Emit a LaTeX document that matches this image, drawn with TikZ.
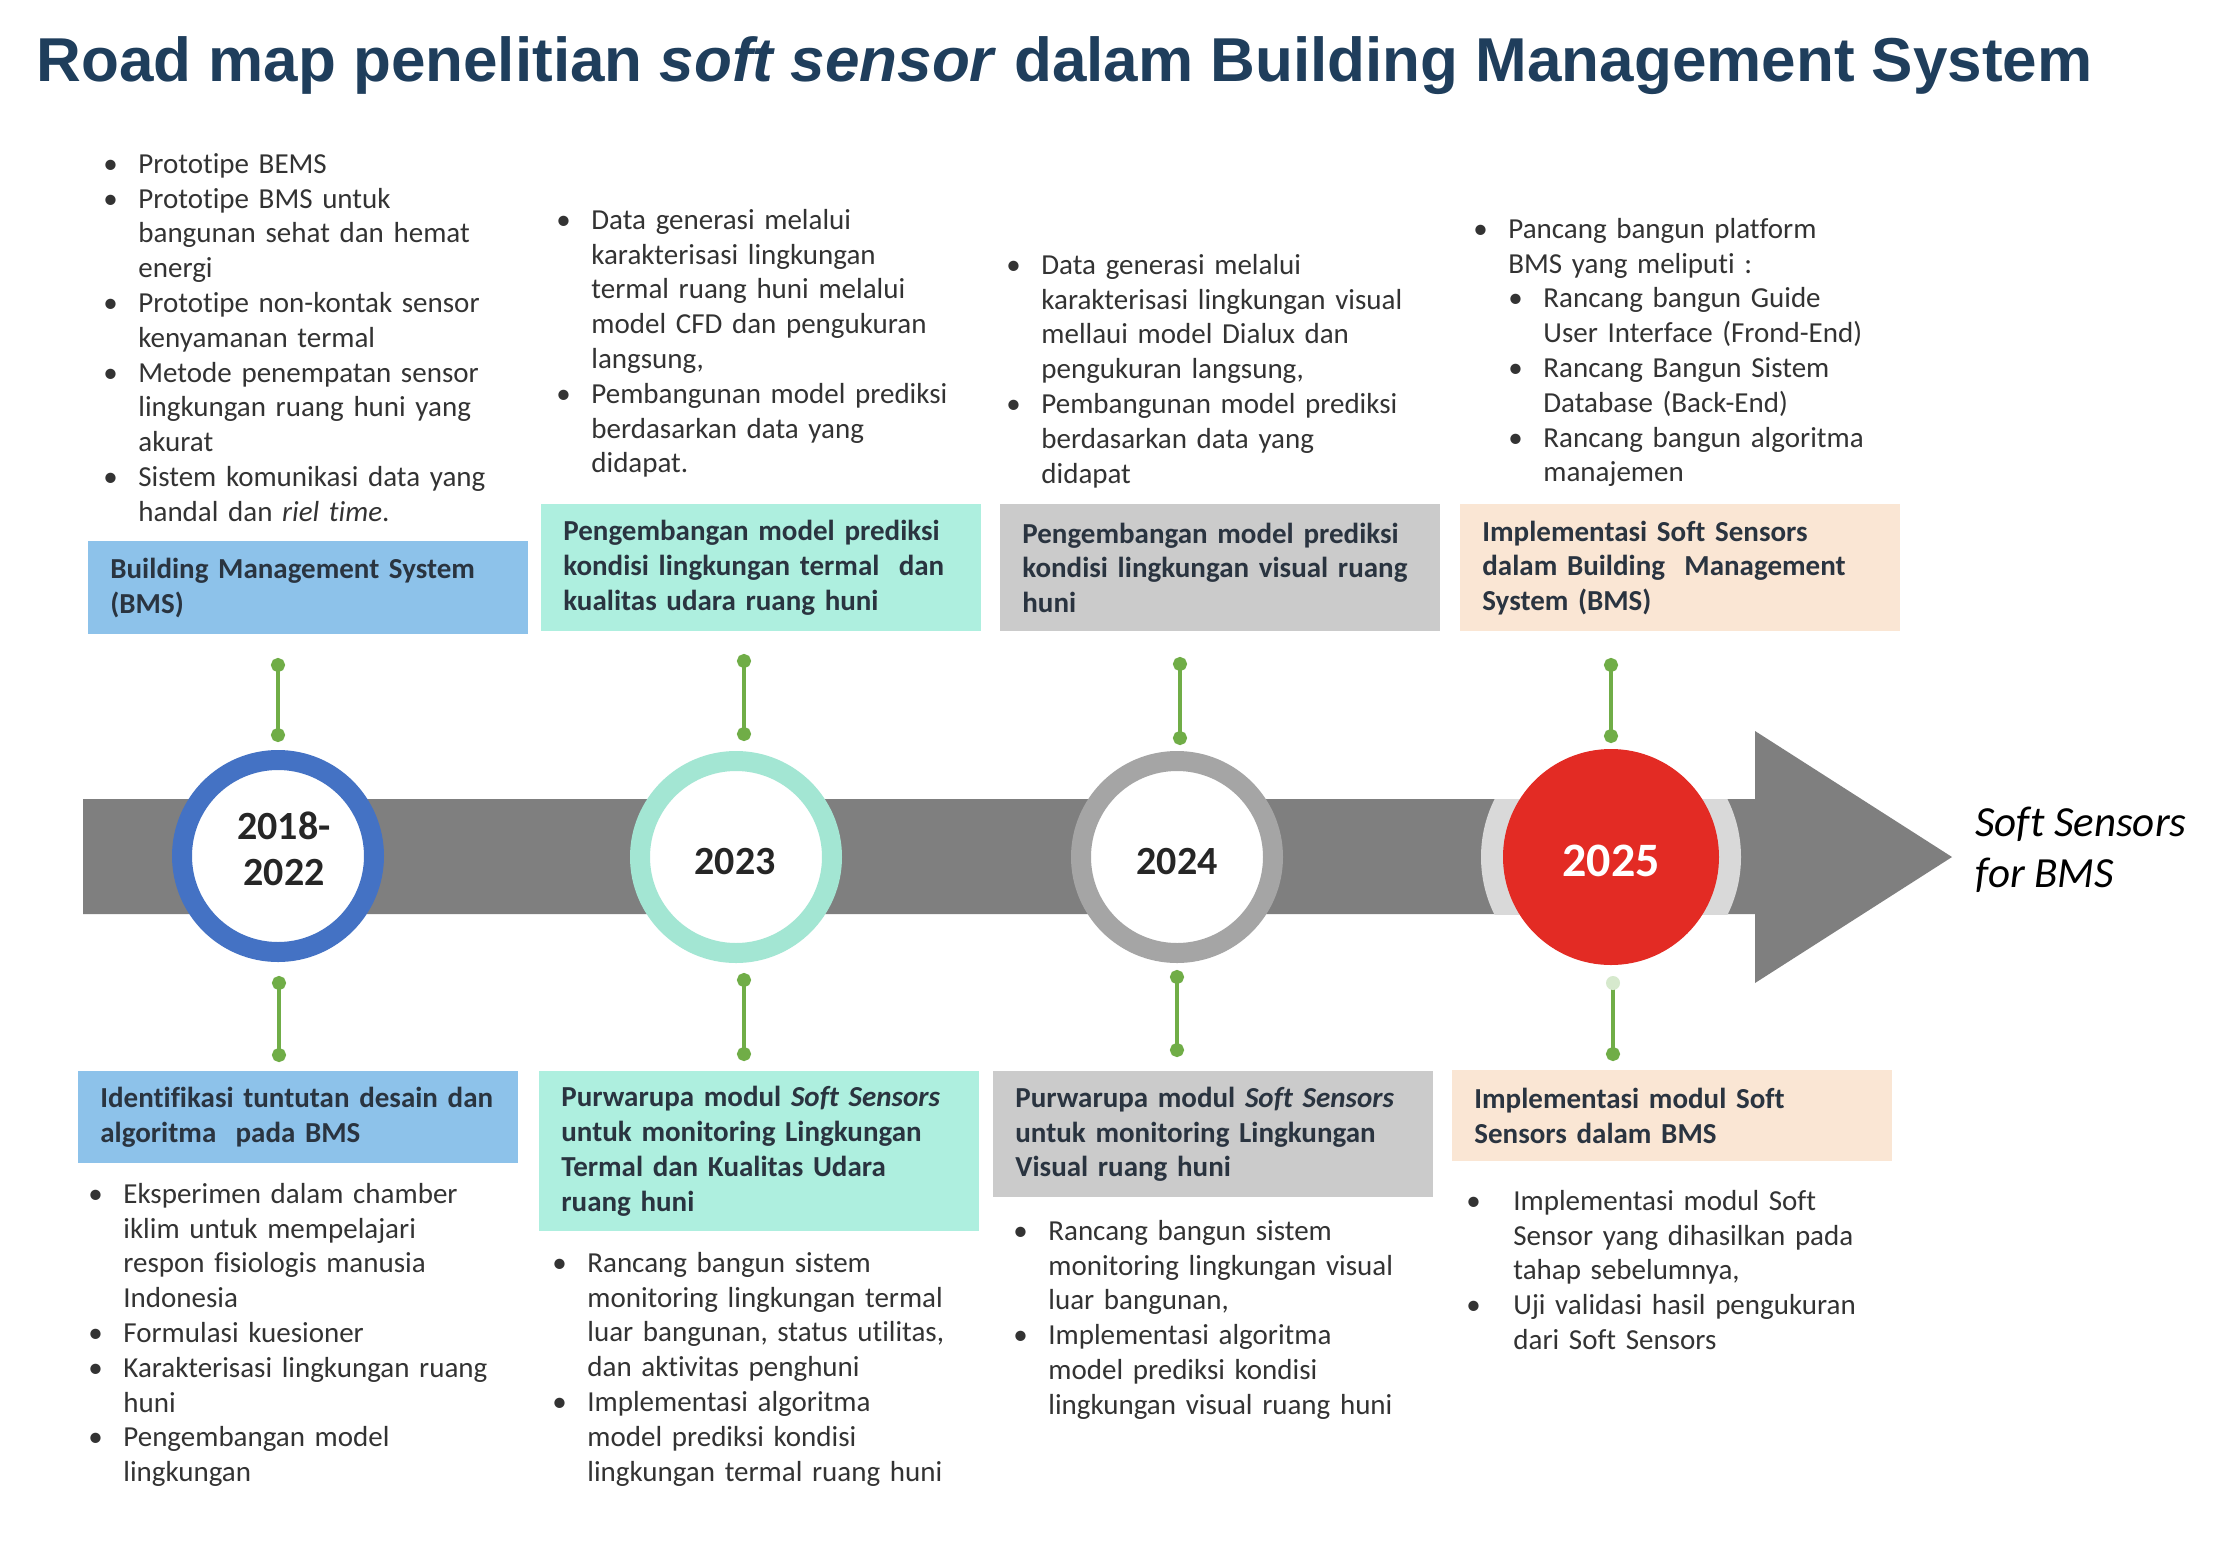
\documentclass[tikz,border=0pt]{standalone}
\usepackage{fontspec}
\setmainfont{Carlito}[Ligatures=NoCommon]
\newfontfamily\titlefont{Liberation Sans}
\usetikzlibrary{arrows.meta}
\definecolor{titlecol}{HTML}{1F3E5C}
\definecolor{bandgray}{HTML}{7F7F7F}
\definecolor{ringblue}{HTML}{4472C4}
\definecolor{ringmint}{HTML}{A3E6D3}
\definecolor{ringgray}{HTML}{A5A5A5}
\definecolor{redfill}{HTML}{E32B24}
\definecolor{lightring}{HTML}{D9D9D9}
\definecolor{conngreen}{HTML}{70AD47}
\definecolor{paledot}{HTML}{D6E9CD}
\definecolor{boxblue}{HTML}{8DC2EA}
\definecolor{boxmint}{HTML}{AEEFDF}
\definecolor{boxgray}{HTML}{CBCBCB}
\definecolor{boxpeach}{HTML}{FAE6D4}
\definecolor{headcol}{HTML}{2A3440}
\definecolor{bodycol}{HTML}{333333}
\definecolor{yearcol}{HTML}{262626}
\newcommand\bodyfs{\fontsize{14.5pt}{17.4pt}\selectfont}
\newlength\lind
\setlength\lind{17.5pt}
\newcommand\nl{\hfil\break}
\newcommand\litem[1]{\par\noindent\hangindent=\lind\hangafter=1\makebox[\lind][l]{\strut•}#1\par}
\newcommand\lsub[1]{\par\noindent\hangindent=2\lind\hangafter=1\hspace*{\lind}\makebox[\lind][l]{\strut•}#1\par}
\begin{document}
\begin{tikzpicture}[x=0.5pt,y=-0.5pt,
  lst/.style={anchor=north west, inner sep=0pt, text width=320pt, font=\bodyfs, text=bodycol},
  hbox/.style={anchor=north west, inner xsep=11pt, inner ysep=0pt, text width=198pt, align=left, font=\bodyfs\bfseries, text=headcol},
  ring/.style={circle, fill=white, line width=10pt, minimum size=96pt, inner sep=0pt},
  yearlbl/.style={inner sep=0pt, align=center, text=yearcol, font=\fontsize{20pt}{23pt}\selectfont\bfseries},
  conn/.style={conngreen, line width=2.3pt, {Circle[length=7pt]}-{Circle[length=7pt]}},
  connpale/.style={conngreen, line width=2.3pt, -{Circle[length=7pt]}}
]
\useasboundingbox (0,0) rectangle (2234,1554);
\fill[white] (0,0) rectangle (2234,1554);

% title
\node[anchor=base west, inner sep=0pt, text=titlecol, font=\titlefont\bfseries\fontsize{31pt}{36pt}\selectfont] (title) at (36,81) {Road map penelitian \textit{soft sensor} dalam Building Management System};

% timeline band and arrow
\fill[bandgray] (83,799) -- (1755,799) -- (1755,731) -- (1952,857) -- (1755,983) -- (1755,914) -- (83,914) -- cycle;
\begin{scope}
  \clip (83,799) rectangle (1755,914);
  \fill[lightring] (1611,857) circle (65pt);
\end{scope}

% year circles
\node[ring, draw=ringblue] (c1) at (278,856) {};
\node[ring, draw=ringmint] (c2) at (736,857) {};
\node[ring, draw=ringgray] (c3) at (1177,857) {};
\node[circle, fill=redfill, minimum size=108pt, inner sep=0pt] (c4) at (1611,857) {};
\node[yearlbl] (y1) at (284,849) {2018-\\2022};
\node[yearlbl] (y2) at (735,862) {2023};
\node[yearlbl] (y3) at (1177,862) {2024};
\node[yearlbl, text=white, font=\fontsize{24pt}{28pt}\selectfont\bfseries] (y4) at (1611,861) {2025};

% connectors
\coordinate (t1a) at (278,658); \coordinate (t1b) at (278,742);
\coordinate (t2a) at (744,654); \coordinate (t2b) at (744,741);
\coordinate (t3a) at (1180,657); \coordinate (t3b) at (1180,745);
\coordinate (t4a) at (1611,658); \coordinate (t4b) at (1611,743);
\coordinate (b1a) at (279,976); \coordinate (b1b) at (279,1062);
\coordinate (b2a) at (744,973); \coordinate (b2b) at (744,1061);
\coordinate (b3a) at (1177,970); \coordinate (b3b) at (1177,1057);
\coordinate (b4a) at (1613,983); \coordinate (b4b) at (1613,1061);
\draw[conn] (t1a) -- (t1b);
\draw[conn] (t2a) -- (t2b);
\draw[conn] (t3a) -- (t3b);
\draw[conn] (t4a) -- (t4b);
\draw[conn] (b1a) -- (b1b);
\draw[conn] (b2a) -- (b2b);
\draw[conn] (b3a) -- (b3b);
\draw[connpale] (b4a) -- (b4b);
\fill[paledot] (b4a) circle (3.5pt);

% top heading boxes
\node[hbox, fill=boxblue, minimum height=46.5pt] (h1) at (88,541) {Building Management System\\(BMS)};
\node[hbox, fill=boxmint, minimum height=63.5pt] (h2) at (541,504) {Pengembangan model prediksi\\kondisi lingkungan termal\ \ dan\\kualitas udara ruang huni};
\node[hbox, fill=boxgray, minimum height=63.5pt] (h3) at (1000,504) {Pengembangan model prediksi\\kondisi lingkungan visual ruang\\huni};
\node[hbox, fill=boxpeach, minimum height=63.5pt] (h4) at (1460,504) {Implementasi Soft Sensors\\dalam Building\ \ Management\\System (BMS)};

% bottom heading boxes
\node[hbox, fill=boxblue, minimum height=46pt] (g1) at (78,1071) {Identifikasi tuntutan desain dan\\algoritma\ \ pada BMS};
\node[hbox, fill=boxmint, minimum height=80pt] (g2) at (539,1071) {Purwarupa modul \textit{Soft Sensors}\\untuk monitoring Lingkungan\\Termal dan Kualitas Udara\\ruang huni};
\node[hbox, fill=boxgray, minimum height=63pt] (g3) at (993,1071) {Purwarupa modul \textit{Soft Sensors}\\untuk monitoring Lingkungan\\Visual ruang huni};
\node[hbox, fill=boxpeach, minimum height=45.5pt] (g4) at (1452,1070) {Implementasi modul Soft\\Sensors dalam BMS};

% top bullet lists
\node[lst] (l1) at (103,138) {%
\litem{Prototipe BEMS}
\litem{Prototipe BMS untuk\nl bangunan sehat dan hemat\nl energi}
\litem{Prototipe non-kontak sensor\nl kenyamanan termal}
\litem{Metode penempatan sensor\nl lingkungan ruang huni yang\nl akurat}
\litem{Sistem komunikasi data yang\nl handal dan \textit{riel time}.}};
\node[lst] (l2) at (556,194) {%
\litem{Data generasi melalui\nl karakterisasi lingkungan\nl termal ruang huni melalui\nl model CFD dan pengukuran\nl langsung,}
\litem{Pembangunan model prediksi\nl berdasarkan data yang\nl didapat.}};
\node[lst] (l3) at (1006,239) {%
\litem{Data generasi melalui\nl karakterisasi lingkungan visual\nl mellaui model Dialux dan\nl pengukuran langsung,}
\litem{Pembangunan model prediksi\nl berdasarkan data yang\nl didapat}};
\node[lst] (l4) at (1473,203) {%
\litem{Pancang bangun platform\nl BMS yang meliputi :}
\lsub{Rancang bangun Guide\nl User Interface (Frond-End)}
\lsub{Rancang Bangun Sistem\nl Database (Back-End)}
\lsub{Rancang bangun algoritma\nl manajemen}};

% bottom bullet lists
\node[lst] (m1) at (88,1168) {%
\litem{Eksperimen dalam chamber\nl iklim untuk mempelajari\nl respon fisiologis manusia\nl Indonesia}
\litem{Formulasi kuesioner}
\litem{Karakterisasi lingkungan ruang\nl huni}
\litem{Pengembangan model\nl lingkungan}};
\node[lst] (m2) at (552,1237) {%
\litem{Rancang bangun sistem\nl monitoring lingkungan termal\nl luar bangunan, status utilitas,\nl dan aktivitas penghuni}
\litem{Implementasi algoritma\nl model prediksi kondisi\nl lingkungan termal ruang huni}};
\node[lst] (m3) at (1013,1205) {%
\litem{Rancang bangun sistem\nl monitoring lingkungan visual\nl luar bangunan,}
\litem{Implementasi algoritma\nl model prediksi kondisi\nl lingkungan visual ruang huni}};
\node[lst] (m4) at (1466,1175) {\setlength\lind{23.5pt}%
\litem{Implementasi modul Soft\nl Sensor yang dihasilkan pada\nl tahap sebelumnya,}
\litem{Uji validasi hasil pengukuran\nl dari Soft Sensors}};

% goal label
\node[anchor=west, inner sep=0pt, align=left, text=black, font=\fontsize{21.5pt}{25.5pt}\selectfont\itshape] (goal) at (1975,850) {Soft Sensors\\for BMS};
\end{tikzpicture}
\end{document}
